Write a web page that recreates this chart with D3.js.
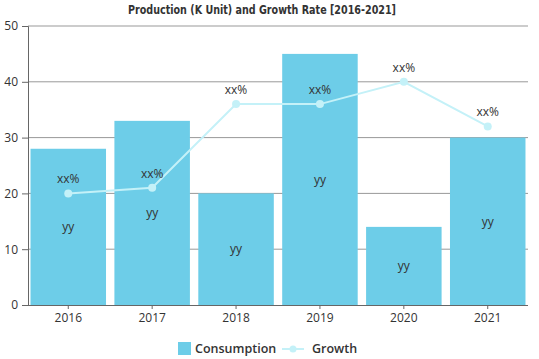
<!DOCTYPE html>
<html>
<head>
<meta charset="utf-8">
<script src="https://cdn.jsdelivr.net/npm/d3@7"></script>
<style>
  body { margin: 0; background: #fff; }
  svg { display: block; font-family: "Open Sans", "DejaVu Sans", sans-serif; }
</style>
</head>
<body>
<svg id="chart" width="539" height="359"></svg>
<script>
// chart data
const years = ["2016", "2017", "2018", "2019", "2020", "2021"];
const consumption = [28, 33, 20, 45, 14, 30];
const growth = [20, 21, 36, 36, 40, 32];
const yTicks = [0, 10, 20, 30, 40, 50];

const svg = d3.select("#chart");
const margin = { top: 26, right: 11, bottom: 54, left: 28 };
const width = 539 - margin.left - margin.right;
const height = 359 - margin.top - margin.bottom;

const barColor = "#6dcde8";
const lineColor = "#c4f1f8";

// scales
const xScale = d3.scaleBand()
  .domain(years)
  .range([margin.left, margin.left + width])
  .paddingInner(0.1)
  .paddingOuter(0.03);

const yScale = d3.scaleLinear()
  .domain([0, 50])
  .range([margin.top + height, margin.top]);

// gridlines
svg.append("g")
  .selectAll("line")
  .data(yTicks.slice(1))
  .enter()
  .append("line")
  .attr("x1", margin.left)
  .attr("x2", margin.left + width)
  .attr("y1", d => yScale(d))
  .attr("y2", d => yScale(d))
  .attr("stroke", "#999")
  .attr("stroke-width", 1);

// bars
svg.selectAll(".bar")
  .data(consumption)
  .enter()
  .append("rect")
  .attr("class", "bar")
  .attr("x", (d, i) => xScale(years[i]))
  .attr("y", d => yScale(d))
  .attr("width", xScale.bandwidth())
  .attr("height", d => yScale(0) - yScale(d))
  .attr("fill", barColor);

// bar labels
svg.selectAll(".bar-label")
  .data(consumption)
  .enter()
  .append("text")
  .attr("class", "bar-label")
  .attr("x", (d, i) => xScale(years[i]) + xScale.bandwidth() / 2)
  .attr("y", d => (yScale(d) + yScale(0)) / 2)
  .attr("dy", "0.35em")
  .attr("text-anchor", "middle")
  .attr("font-size", 12)
  .attr("fill", "#333")
  .text("yy");

// axes
const yAxis = d3.axisLeft(yScale).tickValues(yTicks).tickSize(6).tickPadding(4);
const gy = svg.append("g")
  .attr("transform", `translate(${margin.left}, 0)`)
  .call(yAxis);
gy.select(".domain").attr("stroke", "#666");
gy.selectAll(".tick line").attr("stroke", "#666");
gy.selectAll("text").attr("font-size", 12).attr("fill", "#333").attr("font-family", "Open Sans, sans-serif");

const xAxis = d3.axisBottom(xScale).tickSize(4).tickPadding(4);
const gx = svg.append("g")
  .attr("transform", `translate(0, ${yScale(0)})`)
  .call(xAxis);
gx.select(".domain").attr("stroke", "#666").attr("d", `M${margin.left},0.5H${margin.left + width}`);
gx.selectAll(".tick line").attr("stroke", "#666");
gx.selectAll("text").attr("font-size", 12).attr("fill", "#333").attr("font-family", "Open Sans, sans-serif");

// growth line
const cx = i => xScale(years[i]) + xScale.bandwidth() / 2;
const line = d3.line()
  .x((d, i) => cx(i))
  .y(d => yScale(d));

svg.append("path")
  .datum(growth)
  .attr("d", line)
  .attr("fill", "none")
  .attr("stroke", lineColor)
  .attr("stroke-width", 2);

svg.selectAll(".dot")
  .data(growth)
  .enter()
  .append("circle")
  .attr("cx", (d, i) => cx(i))
  .attr("cy", d => yScale(d))
  .attr("r", 4)
  .attr("fill", lineColor);

svg.selectAll(".dot-label")
  .data(growth)
  .enter()
  .append("text")
  .attr("x", (d, i) => cx(i))
  .attr("y", d => yScale(d) - 10)
  .attr("text-anchor", "middle")
  .attr("font-size", 12)
  .attr("fill", "#333")
  .text("xx%");

// title (condensed heavy look)
svg.append("text")
  .attr("x", 262)
  .attr("y", 14)
  .attr("text-anchor", "middle")
  .attr("font-family", "DejaVu Sans Condensed, sans-serif")
  .attr("font-weight", "bold")
  .attr("font-size", 13)
  .attr("textLength", 268)
  .attr("lengthAdjust", "spacingAndGlyphs")
  .attr("fill", "#333")
  .text("Production (K Unit) and Growth Rate [2016-2021]");

// legend
const legend = svg.append("g").attr("transform", "translate(178, 349)");
legend.append("rect")
  .attr("x", 0).attr("y", -7)
  .attr("width", 13).attr("height", 13)
  .attr("fill", barColor);
legend.append("text")
  .attr("x", 17).attr("y", 0).attr("dy", "0.35em")
  .attr("font-size", 12.5).attr("font-weight", 600).attr("fill", "#333")
  .text("Consumption");
legend.append("line")
  .attr("x1", 104).attr("x2", 126).attr("y1", 0).attr("y2", 0)
  .attr("stroke", lineColor).attr("stroke-width", 2);
legend.append("circle")
  .attr("cx", 115).attr("cy", 0).attr("r", 3.5)
  .attr("fill", lineColor);
legend.append("text")
  .attr("x", 134).attr("y", 0).attr("dy", "0.35em")
  .attr("font-size", 12.5).attr("font-weight", 600).attr("fill", "#333")
  .text("Growth");
</script>
</body>
</html>
